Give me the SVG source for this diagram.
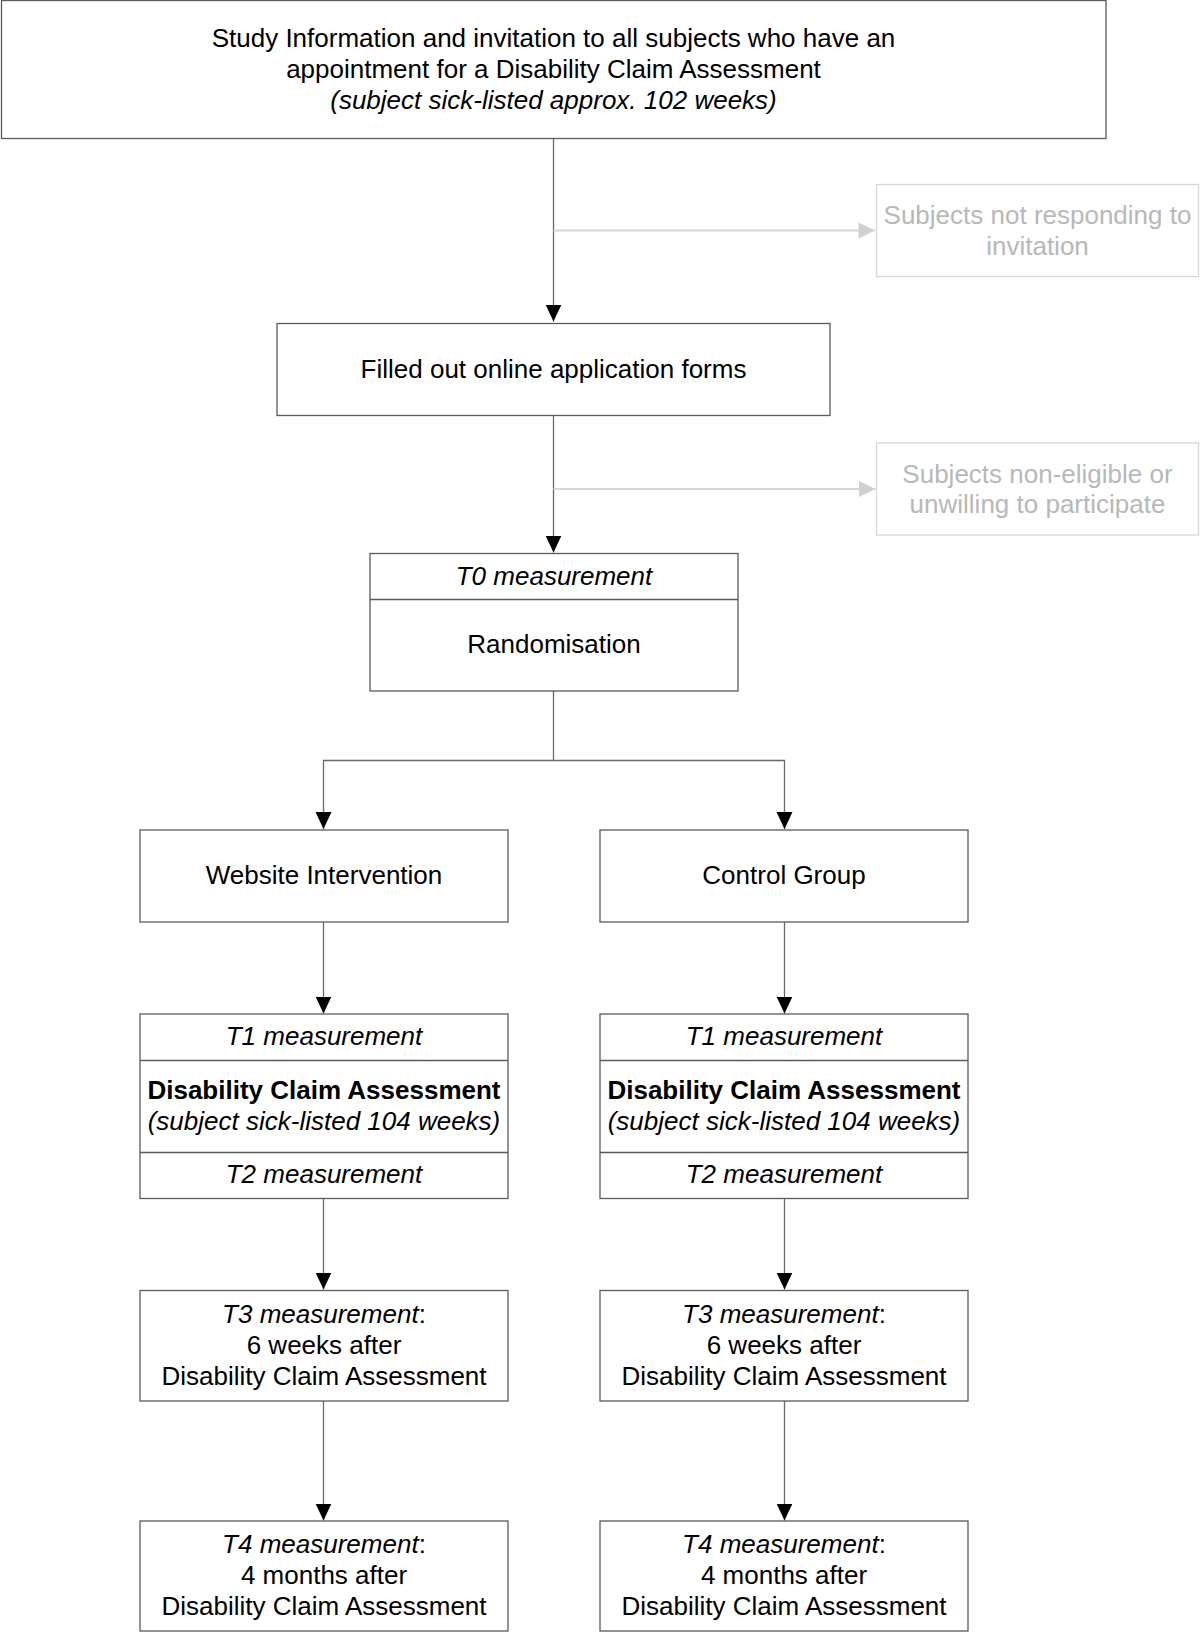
<svg xmlns="http://www.w3.org/2000/svg" width="1200" height="1632" viewBox="0 0 1200 1632">
<style>
.box{fill:#fff;stroke:#5a5a5a;stroke-width:1.3}
.gbox{fill:#fff;stroke:#d6d6d6;stroke-width:1.3}
.div{stroke:#5a5a5a;stroke-width:1.3}
.t{font-family:"Liberation Sans",Arial,sans-serif;font-size:26px;fill:#000;text-anchor:middle}
.g{fill:#b8b8b8}
.i{font-style:italic}
.b{font-weight:bold}
.ln{fill:none;stroke:#6a6a6a;stroke-width:1.3}
.gln{fill:none;stroke:#d6d6d6;stroke-width:2}
</style>
<defs>
<marker id="ah" markerUnits="userSpaceOnUse" markerWidth="17" markerHeight="18" refX="8.5" refY="17" orient="0" viewBox="0 0 17 18"><path d="M0.5,0 L16.5,0 L8.5,17 Z" fill="#000"/></marker>
<marker id="gah" markerUnits="userSpaceOnUse" markerWidth="18" markerHeight="18" refX="17" refY="9" orient="0" viewBox="0 0 18 18"><path d="M0.5,1 L17,9 L0.5,17 Z" fill="#d0d0d0"/></marker>
</defs>
<rect width="1200" height="1632" fill="#fff"/>
<g id="connectors">
<path class="ln" d="M553.5,138.5 V321.5" marker-end="url(#ah)"/>
<path class="gln" d="M553.5,230.5 H875" marker-end="url(#gah)"/>
<path class="ln" d="M553.5,415.5 V552.5" marker-end="url(#ah)"/>
<path class="gln" d="M553.5,489 H875.5" marker-end="url(#gah)"/>
<path class="ln" d="M553.5,691 V760.5 H323.5 V829" marker-end="url(#ah)"/>
<path class="ln" d="M553.5,760.5 H784.5 V829" marker-end="url(#ah)"/>
<path class="ln" d="M323.5,922 V1013.5" marker-end="url(#ah)"/>
<path class="ln" d="M784.5,922 V1013.5" marker-end="url(#ah)"/>
<path class="ln" d="M323.5,1198.5 V1289.5" marker-end="url(#ah)"/>
<path class="ln" d="M784.5,1198.5 V1289.5" marker-end="url(#ah)"/>
<path class="ln" d="M323.5,1401 V1520.5" marker-end="url(#ah)"/>
<path class="ln" d="M784.5,1401 V1520.5" marker-end="url(#ah)"/>
</g>
<g id="study-info">
<rect class="box" x="1.5" y="0.5" width="1104.5" height="138"/>
<text class="t" x="553.5" y="47">Study Information and invitation to all subjects who have an</text>
<text class="t" x="553.5" y="78">appointment for a Disability Claim Assessment</text>
<text class="t i" x="553.5" y="109">(subject sick-listed approx. 102 weeks)</text>
</g>
<g id="not-responding">
<rect class="gbox" x="876.5" y="184.5" width="322" height="92"/>
<text class="t g" x="1037.5" y="224">Subjects not responding to</text>
<text class="t g" x="1037.5" y="255">invitation</text>
</g>
<g id="filled-forms">
<rect class="box" x="277" y="323.5" width="553" height="92"/>
<text class="t" x="553.5" y="377.5">Filled out online application forms</text>
</g>
<g id="non-eligible">
<rect class="gbox" x="876.5" y="443" width="322" height="92"/>
<text class="t g" x="1037.5" y="482.5">Subjects non-eligible or</text>
<text class="t g" x="1037.5" y="513">unwilling to participate</text>
</g>
<g id="t0-randomisation">
<rect class="box" x="370" y="553.5" width="368" height="137.5"/>
<line class="div" x1="370" y1="599.5" x2="738" y2="599.5"/>
<text class="t i" x="554" y="585">T0 measurement</text>
<text class="t" x="554" y="653">Randomisation</text>
</g>
<g id="website-intervention">
<rect class="box" x="140" y="830" width="368" height="92"/>
<text class="t" x="324" y="884">Website Intervention</text>
</g>
<g id="control-group">
<rect class="box" x="600" y="830" width="368" height="92"/>
<text class="t" x="784" y="884">Control Group</text>
</g>
<g id="t1-t2-intervention">
<rect class="box" x="140" y="1014" width="368" height="184.5"/>
<line class="div" x1="140" y1="1060.5" x2="508" y2="1060.5"/>
<line class="div" x1="140" y1="1152.5" x2="508" y2="1152.5"/>
<text class="t i" x="324" y="1045">T1 measurement</text>
<text class="t b" x="324" y="1099">Disability Claim Assessment</text>
<text class="t i" x="324" y="1130">(subject sick-listed 104 weeks)</text>
<text class="t i" x="324" y="1183">T2 measurement</text>
</g>
<g id="t1-t2-control">
<rect class="box" x="600" y="1014" width="368" height="184.5"/>
<line class="div" x1="600" y1="1060.5" x2="968" y2="1060.5"/>
<line class="div" x1="600" y1="1152.5" x2="968" y2="1152.5"/>
<text class="t i" x="784" y="1045">T1 measurement</text>
<text class="t b" x="784" y="1099">Disability Claim Assessment</text>
<text class="t i" x="784" y="1130">(subject sick-listed 104 weeks)</text>
<text class="t i" x="784" y="1183">T2 measurement</text>
</g>
<g id="t3-intervention">
<rect class="box" x="140" y="1290.5" width="368" height="110.5"/>
<text class="t" x="324" y="1323"><tspan class="i">T3 measurement</tspan>:</text>
<text class="t" x="324" y="1354">6 weeks after</text>
<text class="t" x="324" y="1385">Disability Claim Assessment</text>
</g>
<g id="t3-control">
<rect class="box" x="600" y="1290.5" width="368" height="110.5"/>
<text class="t" x="784" y="1323"><tspan class="i">T3 measurement</tspan>:</text>
<text class="t" x="784" y="1354">6 weeks after</text>
<text class="t" x="784" y="1385">Disability Claim Assessment</text>
</g>
<g id="t4-intervention">
<rect class="box" x="140" y="1521" width="368" height="110"/>
<text class="t" x="324" y="1553"><tspan class="i">T4 measurement</tspan>:</text>
<text class="t" x="324" y="1584">4 months after</text>
<text class="t" x="324" y="1615">Disability Claim Assessment</text>
</g>
<g id="t4-control">
<rect class="box" x="600" y="1521" width="368" height="110"/>
<text class="t" x="784" y="1553"><tspan class="i">T4 measurement</tspan>:</text>
<text class="t" x="784" y="1584">4 months after</text>
<text class="t" x="784" y="1615">Disability Claim Assessment</text>
</g>
</svg>
